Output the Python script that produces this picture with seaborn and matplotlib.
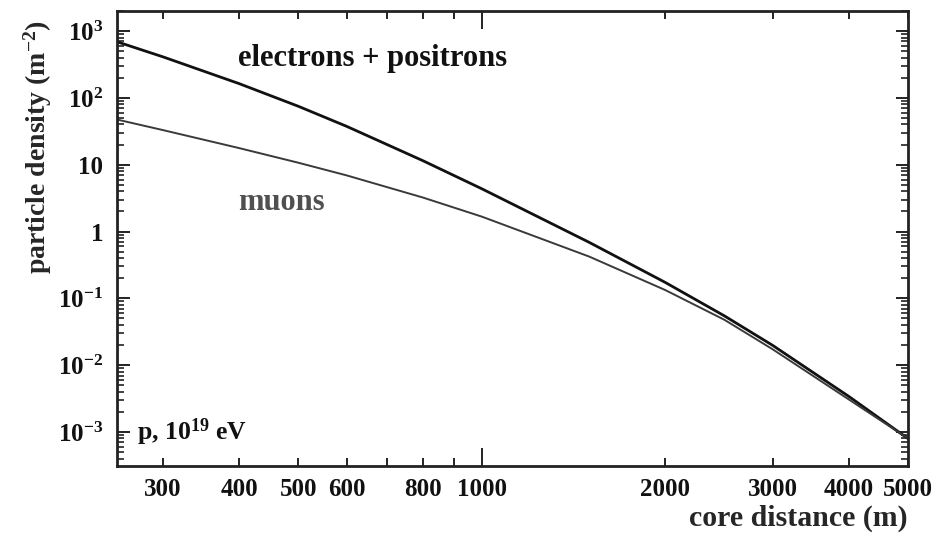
import numpy as np
import pandas as pd
import matplotlib
matplotlib.use("Agg")
import matplotlib.pyplot as plt
import matplotlib.ticker as mticker
import seaborn as sns

# Lateral distribution of a 10^19 eV proton shower
distance = [250, 300, 400, 500, 600, 800, 1000, 1500, 2000, 2500, 3000, 4000, 5000]
electrons = [708, 410, 163, 74.8, 37.5, 11.5, 4.36, 0.689, 0.173, 0.0547, 0.0198, 0.00341, 0.0008]
muons = [48.2, 32.9, 17.7, 10.7, 6.92, 3.23, 1.67, 0.422, 0.133, 0.0478, 0.0173, 0.00307, 0.000804]

x_labelled = [300, 400, 500, 600, 800, 1000, 2000, 3000, 4000, 5000]
x_minor = [300, 400, 500, 600, 700, 800, 900, 2000, 3000, 4000, 5000]
y_decades = [1e-3, 1e-2, 1e-1, 1, 10, 100, 1000]
y_labels = [r"$\mathbf{10^{-3}}$", r"$\mathbf{10^{-2}}$", r"$\mathbf{10^{-1}}$", "1", "10",
            r"$\mathbf{10^{2}}$", r"$\mathbf{10^{3}}$"]

sns.set_theme(style="ticks")
plt.rcParams["font.family"] = ["Liberation Serif", "DejaVu Serif"]
plt.rcParams["font.weight"] = "bold"
plt.rcParams["mathtext.fontset"] = "custom"
plt.rcParams["mathtext.rm"] = "Liberation Serif:bold"
plt.rcParams["mathtext.bf"] = "Liberation Serif:bold"
plt.rcParams["mathtext.it"] = "Liberation Serif:bold"

df = pd.DataFrame({
    "distance": distance * 2,
    "density": electrons + muons,
    "species": ["e"] * len(distance) + ["mu"] * len(distance),
})

fig = plt.figure(figsize=(9.34, 5.36), dpi=100)
ax = fig.add_axes([0.1253, 0.1306, 0.8467, 0.849])

sns.lineplot(data=df, x="distance", y="density", hue="species",
             palette={"e": "#111111", "mu": "#3a3a3a"}, legend=False, ax=ax,
             estimator=None, sort=False)
lines = ax.get_lines()
lines[0].set_linewidth(2.0)
lines[1].set_linewidth(1.4)

ax.set_xscale("log")
ax.set_yscale("log")
ax.set_xlim(252, 5000)
ax.set_ylim(3.1e-4, 2000)

# x axis: one decade tick at 1000, the rest as labelled minor ticks
ax.xaxis.set_major_locator(mticker.FixedLocator([1000]))
ax.xaxis.set_major_formatter(mticker.FixedFormatter(["1000"]))
ax.xaxis.set_minor_locator(mticker.FixedLocator(x_minor))
ax.xaxis.set_minor_formatter(mticker.FuncFormatter(
    lambda v, p: f"{int(round(v))}" if int(round(v)) in x_labelled else ""))

ax.yaxis.set_major_locator(mticker.FixedLocator(y_decades))
ax.yaxis.set_major_formatter(mticker.FixedFormatter(y_labels))
ax.yaxis.set_minor_locator(mticker.LogLocator(base=10, subs=np.arange(2, 10), numticks=20))
ax.yaxis.set_minor_formatter(mticker.NullFormatter())

ax.tick_params(axis="both", which="both", direction="in", top=True, right=True,
               colors="#222222", labelcolor="#111111", labelsize=18)
ax.tick_params(axis="x", which="major", length=13, width=1.4, pad=9)
ax.tick_params(axis="x", which="minor", length=6, width=1.4, pad=9)
ax.tick_params(axis="y", which="major", length=9, width=1.4, pad=10)
ax.tick_params(axis="y", which="minor", length=5, width=1.2)
for s in ax.spines.values():
    s.set_linewidth(2.0)
    s.set_color("#222222")
    s.set_visible(True)

ax.set_xlabel("core distance (m)", fontsize=21.5, fontweight="bold", loc="right", labelpad=2)
ax.set_ylabel(r"particle density (m$^{\mathbf{-2}}$)", fontsize=20, fontweight="bold")
ax.yaxis.set_label_coords(-0.080, 0.70)

ax.text(0.153, 0.895, "electrons + positrons", transform=ax.transAxes,
        fontsize=22, fontweight="bold", color="#111111", va="center")
ax.text(0.153, 0.58, "muons", transform=ax.transAxes,
        fontsize=22, fontweight="bold", color="#505050", va="center")
ax.text(0.025, 0.075, r"p, 10$^{\mathbf{19}}$ eV", transform=ax.transAxes,
        fontsize=18.5, fontweight="bold", color="#111111", va="center")

fig.savefig("out.png", dpi=100, facecolor="white")
